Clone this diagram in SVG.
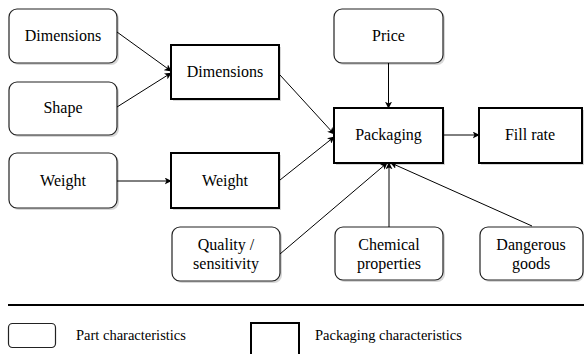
<svg xmlns="http://www.w3.org/2000/svg" width="584" height="354" viewBox="0 0 584 354">
<defs>
<style>
.part{fill:#fff;stroke:#222;stroke-width:1.2}
.pack{fill:#fff;stroke:#000;stroke-width:2}
.sh{fill:#9a9a9a;opacity:0.4}
.conn line{stroke:#000;stroke-width:1}
</style>
<marker id="arr" viewBox="0 0 10 10" refX="9" refY="5" markerWidth="7" markerHeight="7" orient="auto" markerUnits="userSpaceOnUse">
<path d="M0,0 L10,5 L0,10 L2.5,5 Z" fill="#000"/>
</marker>
</defs>
<rect width="584" height="354" fill="#fff"/>

<g id="n-dim-part">
<rect class="sh" x="11" y="11" width="108" height="54" rx="8"/>
<rect class="part" x="9" y="9" width="108" height="54" rx="8"/>
<text x="63" y="41" font-family="Liberation Serif, serif" font-size="16" text-anchor="middle">Dimensions</text>
</g>
<g id="n-shape">
<rect class="sh" x="11" y="84" width="108" height="53" rx="8"/>
<rect class="part" x="9" y="82" width="108" height="53" rx="8"/>
<text x="63" y="113" font-family="Liberation Serif, serif" font-size="16" text-anchor="middle">Shape</text>
</g>
<g id="n-weight-part">
<rect class="sh" x="11" y="155" width="108" height="55" rx="8"/>
<rect class="part" x="9" y="153" width="108" height="55" rx="8"/>
<text x="63" y="186" font-family="Liberation Serif, serif" font-size="16" text-anchor="middle">Weight</text>
</g>
<g id="n-dim-pack">
<rect class="sh" x="173" y="47" width="108" height="54"/>
<rect class="pack" x="171" y="45" width="108" height="54"/>
<text x="225" y="77" font-family="Liberation Serif, serif" font-size="16" text-anchor="middle">Dimensions</text>
</g>
<g id="n-weight-pack">
<rect class="sh" x="173" y="155" width="108" height="55"/>
<rect class="pack" x="171" y="153" width="108" height="55"/>
<text x="225" y="186" font-family="Liberation Serif, serif" font-size="16" text-anchor="middle">Weight</text>
</g>
<g id="n-quality">
<rect class="sh" x="174" y="229" width="108" height="54" rx="8"/>
<rect class="part" x="172" y="227" width="108" height="54" rx="8"/>
<text x="226" y="250" font-family="Liberation Serif, serif" font-size="16" text-anchor="middle">Quality /</text>
<text x="226" y="269" font-family="Liberation Serif, serif" font-size="16" text-anchor="middle">sensitivity</text>
</g>
<g id="n-price">
<rect class="sh" x="336" y="11" width="109" height="54" rx="8"/>
<rect class="part" x="334" y="9" width="109" height="54" rx="8"/>
<text x="388.5" y="41" font-family="Liberation Serif, serif" font-size="16" text-anchor="middle">Price</text>
</g>
<g id="n-packaging">
<rect class="sh" x="336" y="110" width="109" height="55"/>
<rect class="pack" x="334" y="108" width="109" height="55"/>
<text x="388.5" y="140" font-family="Liberation Serif, serif" font-size="16" text-anchor="middle">Packaging</text>
</g>
<g id="n-fillrate">
<rect class="sh" x="481" y="110" width="103" height="55"/>
<rect class="pack" x="479" y="108" width="103" height="55"/>
<text x="530" y="140" font-family="Liberation Serif, serif" font-size="16" text-anchor="middle">Fill rate</text>
</g>
<g id="n-chemical">
<rect class="sh" x="337" y="229" width="108" height="53" rx="8"/>
<rect class="part" x="335" y="227" width="108" height="53" rx="8"/>
<text x="389" y="250" font-family="Liberation Serif, serif" font-size="16" text-anchor="middle">Chemical</text>
<text x="389" y="269" font-family="Liberation Serif, serif" font-size="16" text-anchor="middle">properties</text>
</g>
<g id="n-dangerous">
<rect class="sh" x="482" y="229" width="102" height="53" rx="8"/>
<rect class="part" x="480" y="227" width="103" height="53" rx="8"/>
<text x="531" y="250" font-family="Liberation Serif, serif" font-size="16" text-anchor="middle">Dangerous</text>
<text x="531" y="269" font-family="Liberation Serif, serif" font-size="16" text-anchor="middle">goods</text>
</g>

<g id="connectors" class="conn">
<line x1="117" y1="32" x2="171" y2="71" marker-end="url(#arr)"/>
<line x1="117" y1="107" x2="171" y2="73" marker-end="url(#arr)"/>
<line x1="117" y1="181" x2="171" y2="181" marker-end="url(#arr)"/>
<line x1="280" y1="75" x2="334" y2="134" marker-end="url(#arr)"/>
<line x1="280" y1="180" x2="334" y2="137" marker-end="url(#arr)"/>
<line x1="280" y1="254" x2="387" y2="163" marker-end="url(#arr)"/>
<line x1="389" y1="227" x2="389" y2="163" marker-end="url(#arr)"/>
<line x1="532" y1="226" x2="391" y2="163" marker-end="url(#arr)"/>
<line x1="388.5" y1="63" x2="388.5" y2="108" marker-end="url(#arr)"/>
<line x1="443" y1="135" x2="479" y2="135" marker-end="url(#arr)"/>
</g>

<g id="legend">
<line x1="8" y1="305" x2="584" y2="305" stroke="#000" stroke-width="2"/>
<rect x="8.5" y="323.5" width="47" height="24" rx="4" fill="#fff" stroke="#222" stroke-width="1.2"/>
<text x="76" y="340" font-family="Liberation Serif, serif" font-size="14.5">Part characteristics</text>
<rect x="251" y="323" width="48" height="40" fill="#fff" stroke="#000" stroke-width="2"/>
<text x="315" y="340" font-family="Liberation Serif, serif" font-size="14.5">Packaging characteristics</text>
</g>
</svg>
